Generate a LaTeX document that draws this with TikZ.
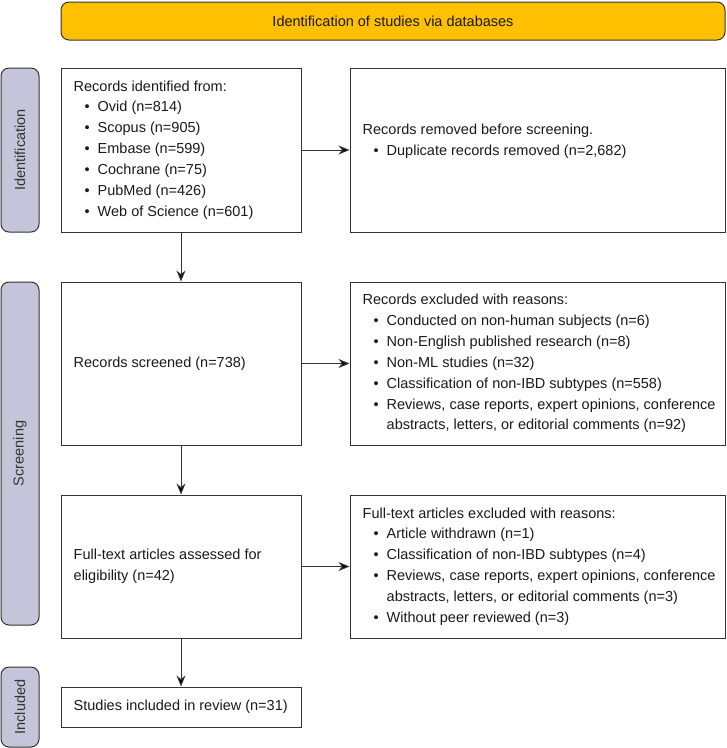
\documentclass[tikz,border=0pt]{standalone}
\usepackage{fontspec}
\setmainfont{Liberation Sans}
\usetikzlibrary{arrows.meta}
\definecolor{yel}{HTML}{FFC000}
\definecolor{lav}{HTML}{C5C5DA}
\definecolor{ln}{HTML}{333333}
\definecolor{txt}{HTML}{1A1A1A}
\newcommand{\bul}[1]{\makebox[24pt][l]{\hspace{11pt}\textbullet}#1}
\newcommand{\cont}[1]{\hspace*{24pt}#1}
\begin{document}
\begin{tikzpicture}[x=1pt,y=-1pt,
  font=\fontsize{14.5}{20.9}\selectfont,
  box/.style={draw=ln, line width=1pt, fill=white, inner sep=0pt, anchor=center},
  lbl/.style={draw=ln, line width=1pt, fill=lav, rounded corners=8pt, inner sep=0pt, minimum width=38pt, text=ln},
  txtnode/.style={align=left, inner sep=0pt, anchor=west, text=txt},
  arr/.style={draw=ln, line width=1pt, -{Stealth[length=11pt,width=9pt,inset=3.5pt,fill=black]}}]
\useasboundingbox (0,0) rectangle (727,748);
% title
\node[draw=ln, line width=1pt, fill=yel, rounded corners=8pt, minimum width=664pt, minimum height=38pt, text=txt] (title) at (393,21) {Identification of studies via databases};
% side labels
\node[lbl, minimum height=164pt] (L1) at (20,150) {};
\node[rotate=90, text=ln] (L1t) at (L1.center) {Identification};
\node[lbl, minimum height=343pt] (L2) at (20,453.5) {};
\node[rotate=90, text=ln] (L2t) at (L2.center) {Screening};
\node[lbl, minimum height=80pt] (L3) at (20,707) {};
\node[rotate=90, text=ln] (L3t) at (L3.center) {Included};
% boxes
\node[box, minimum width=240pt, minimum height=164pt] (b1) at (181,150) {};
\node[box, minimum width=375pt, minimum height=164pt] (b2) at (537.5,150) {};
\node[box, minimum width=240pt, minimum height=163pt] (b3) at (181,363.5) {};
\node[box, minimum width=375pt, minimum height=163pt] (b4) at (537.5,363.5) {};
\node[box, minimum width=240pt, minimum height=143pt] (b5) at (181,566.5) {};
\node[box, minimum width=375pt, minimum height=143pt] (b6) at (537.5,566.5) {};
\node[box, minimum width=240pt, minimum height=40pt] (b7) at (181,707) {};
% texts
\node[txtnode] (t1) at ([xshift=13pt]b1.west) {Records identified from:\\
\bul{Ovid (n=814)}\\
\bul{Scopus (n=905)}\\
\bul{Embase (n=599)}\\
\bul{Cochrane (n=75)}\\
\bul{PubMed (n=426)}\\
\bul{Web of Science (n=601)}};
\node[txtnode] (t2) at ([xshift=13pt,yshift=9pt]b2.west) {Records removed before screening.\\
\bul{Duplicate records removed (n=2,682)}};
\node[txtnode] (t3) at ([xshift=13pt]b3.west) {Records screened (n=738)};
\node[txtnode] (t4) at ([xshift=13pt]b4.west) {Records excluded with reasons:\\
\bul{Conducted on non-human subjects (n=6)}\\
\bul{Non-English published research (n=8)}\\
\bul{Non-ML studies (n=32)}\\
\bul{Classification of non-IBD subtypes (n=558)}\\
\bul{Reviews, case reports, expert opinions, conference}\\
\cont{abstracts, letters, or editorial comments (n=92)}};
\node[txtnode] (t5) at ([xshift=13pt]b5.west) {Full-text articles assessed for\\eligibility (n=42)};
\node[txtnode] (t6) at ([xshift=13pt]b6.west) {Full-text articles excluded with reasons:\\
\bul{Article withdrawn (n=1)}\\
\bul{Classification of non-IBD subtypes (n=4)}\\
\bul{Reviews, case reports, expert opinions, conference}\\
\cont{abstracts, letters, or editorial comments (n=3)}\\
\bul{Without peer reviewed (n=3)}};
\node[txtnode] (t7) at ([xshift=13pt]b7.west) {Studies included in review (n=31)};
% arrows
\draw[arr] (b1.south) -- (b3.north);
\draw[arr] (b3.south) -- (b5.north);
\draw[arr] (b5.south) -- (b7.north);
\draw[arr] (b1.east) -- (b2.west);
\draw[arr] (b3.east) -- (b4.west);
\draw[arr] (b5.east) -- (b6.west);
\end{tikzpicture}
\end{document}
